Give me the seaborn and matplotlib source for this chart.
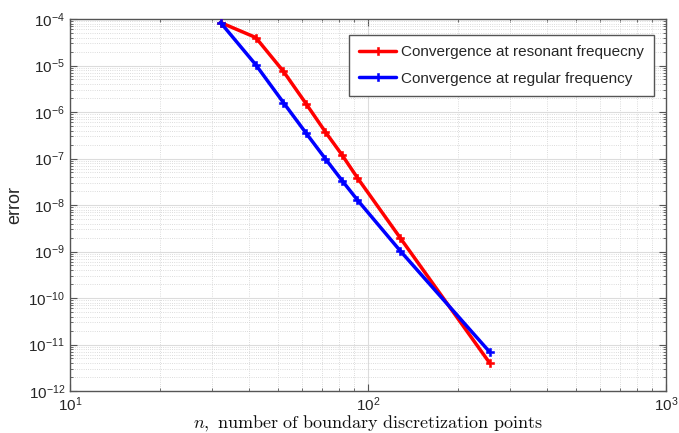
import numpy as np
import pandas as pd
import matplotlib
matplotlib.use("Agg")
import matplotlib.pyplot as plt
from matplotlib.ticker import LogLocator, NullFormatter
import seaborn as sns

# ---- data ----
n_points = [32, 42, 52, 62, 72, 82, 92, 128, 256]
err_resonant = [8.4e-5, 4.0e-5, 7.5e-6, 1.5e-6, 3.7e-7, 1.17e-7, 3.9e-8, 2.0e-9, 4.0e-12]
err_regular = [8.4e-5, 1.04e-5, 1.6e-6, 3.5e-7, 9.8e-8, 3.3e-8, 1.3e-8, 1.05e-9, 6.9e-12]
label_res = "Convergence at resonant frequecny"
label_reg = "Convergence at regular frequency"

df = pd.DataFrame({
    "n": n_points * 2,
    "err": err_resonant + err_regular,
    "series": [label_res] * len(n_points) + [label_reg] * len(n_points),
})

sns.set_style("ticks")
plt.rcParams["font.family"] = ["Liberation Sans", "DejaVu Sans"]

fig = plt.figure(figsize=(6.79, 4.33), dpi=100)
ax = fig.add_axes([70 / 679, 1 - 391 / 433, 596 / 679, 372 / 433])

sns.lineplot(data=df, x="n", y="err", hue="series",
             palette={label_res: "#ff0000", label_reg: "#0000ff"},
             marker="P", markersize=6, linewidth=2.5,
             sort=False, ax=ax, zorder=3)

for ln in ax.lines:
    ln.set_markeredgecolor(ln.get_color())
    ln.set_markerfacecolor(ln.get_color())
    ln.set_markeredgewidth(0.4)

ax.set_xscale("log")
ax.set_yscale("log")
ax.set_xlim(10, 1000)
ax.set_ylim(1e-12, 1e-4)

ax.xaxis.set_major_locator(LogLocator(base=10, numticks=10))
ax.xaxis.set_minor_locator(LogLocator(base=10, subs=np.arange(2, 10), numticks=20))
ax.yaxis.set_major_locator(LogLocator(base=10, numticks=20))
ax.yaxis.set_minor_locator(LogLocator(base=10, subs=np.arange(2, 10), numticks=40))
ax.xaxis.set_minor_formatter(NullFormatter())
ax.yaxis.set_minor_formatter(NullFormatter())

ax.grid(True, which="major", color="#dcdcdc", linewidth=0.8, linestyle="-")
ax.grid(True, which="minor", color="#d0d0d0", linewidth=0.6, linestyle=":")
ax.set_axisbelow(True)

for s in ax.spines.values():
    s.set_color("#555555")
    s.set_linewidth(1.0)
ax.tick_params(which="both", direction="in", top=True, right=True,
               colors="#555555", labelcolor="#262626")
ax.tick_params(which="major", length=5, labelsize=11)
ax.tick_params(which="minor", length=2.5)

ax.set_xlabel(r"$n\mathrm{,\ number\ of\ boundary\ discretization\ points}$",
              fontsize=13, math_fontfamily="cm", color="#111111", labelpad=0)
ax.set_ylabel("error", fontsize=13, color="#262626", labelpad=4)

handles, labels = ax.get_legend_handles_labels()
leg = ax.legend(handles, labels, loc="upper right",
                bbox_to_anchor=(0.980, 0.958), borderaxespad=0,
                fontsize=11, frameon=True, fancybox=False,
                edgecolor="#555555", framealpha=1, handlelength=2.4,
                handletextpad=0.3, borderpad=0.7, labelspacing=0.8)
leg.get_frame().set_linewidth(1.0)

fig.savefig("out.png", dpi=100)
